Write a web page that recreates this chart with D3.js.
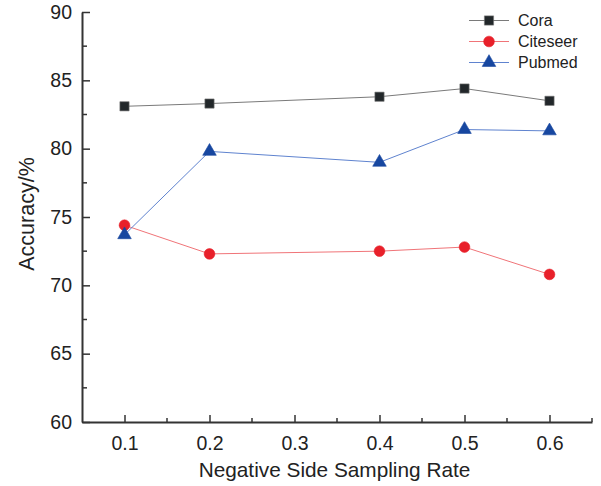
<!DOCTYPE html>
<html><head><meta charset="utf-8">
<script src="https://cdn.jsdelivr.net/npm/d3@7"></script>
<style>body{margin:0;background:#fff}svg{display:block;font-family:"Liberation Sans",Arial,sans-serif}</style>
</head><body>
<svg id="c" width="601" height="486"></svg>
<script>
const rates = [0.1, 0.2, 0.4, 0.5, 0.6];
const cora = [83.1, 83.3, 83.8, 84.4, 83.5];
const citeseer = [74.4, 72.3, 72.5, 72.8, 70.8];
const pubmed = [73.7, 79.8, 79.0, 81.4, 81.3];
const xTicks = [0.1, 0.2, 0.3, 0.4, 0.5, 0.6];
const yTicks = [60, 65, 70, 75, 80, 85, 90];
const seriesNames = ["Cora", "Citeseer", "Pubmed"];

const svg = d3.select("#c");
const x = d3.scaleLinear().domain([0.05, 0.65]).range([82, 592]);
const y = d3.scaleLinear().domain([60, 90]).range([422, 12]);
const axisColor = "#333";

const series = [
  {name: seriesNames[0], values: cora, line: "#7a7a7a", fill: "#22272a", stroke: "#777", shape: d3.symbolSquare, size: 85},
  {name: seriesNames[1], values: citeseer, line: "#f07478", fill: "#e8202a", stroke: "#e8202a", shape: d3.symbolCircle, size: 90},
  {name: seriesNames[2], values: pubmed, line: "#5f83cf", fill: "#1747a0", stroke: "#1747a0", shape: d3.symbolTriangle, size: 80}
];

const line = d3.line().x((d,i)=>x(rates[i])).y(d=>y(d));
series.forEach(s=>{
  svg.append("path").attr("d", line(s.values)).attr("fill","none").attr("stroke", s.line).attr("stroke-width",1);
});
series.forEach(s=>{
  svg.selectAll(null).data(s.values).enter().append("path")
    .attr("d", d3.symbol().type(s.shape).size(s.size))
    .attr("transform",(d,i)=>`translate(${x(rates[i])},${y(d)})`)
    .attr("fill", s.fill).attr("stroke", s.stroke).attr("stroke-width", 0.6);
});

const yAxis = d3.axisLeft(y).tickValues(yTicks).tickSizeInner(-8).tickSizeOuter(0).tickPadding(10);
const gy = svg.append("g").attr("transform","translate(82,0)").call(yAxis);
gy.select(".domain").attr("stroke",axisColor).attr("stroke-width",2);
gy.selectAll(".tick line").attr("stroke",axisColor).attr("stroke-width",1.5);
gy.selectAll(".tick text").attr("font-size",19.5).attr("fill","#222").attr("font-family","Liberation Sans, Arial, sans-serif");
const yMinor = d3.range(62.5, 90, 5);
gy.selectAll(".minor").data(yMinor).enter().append("line").attr("class","minor")
  .attr("x1",0).attr("x2",5).attr("y1",d=>y(d)).attr("y2",d=>y(d)).attr("stroke",axisColor).attr("stroke-width",1.5);

const xAxis = d3.axisBottom(x).tickValues(xTicks).tickFormat(d3.format(".1f")).tickSizeInner(-7).tickSizeOuter(0).tickPadding(14);
const gx = svg.append("g").attr("transform","translate(0,422)").call(xAxis);
gx.select(".domain").attr("stroke",axisColor).attr("stroke-width",2);
gx.selectAll(".tick line").attr("stroke",axisColor).attr("stroke-width",1.5);
gx.selectAll(".tick text").attr("font-size",19.5).attr("fill","#222").attr("font-family","Liberation Sans, Arial, sans-serif");
const xMinor = [0.15, 0.25, 0.35, 0.45, 0.55, 0.65];
gx.selectAll(".minor").data(xMinor).enter().append("line").attr("class","minor")
  .attr("x1",d=>x(d)).attr("x2",d=>x(d)).attr("y1",0).attr("y2",-4).attr("stroke",axisColor).attr("stroke-width",1.5);

svg.append("text").attr("x",334.5).attr("y",477).attr("text-anchor","middle").attr("font-size",20.8).attr("fill","#222").text("Negative Side Sampling Rate");
svg.append("text").attr("transform","translate(34,214) rotate(-90)").attr("text-anchor","middle").attr("font-size",21.5).attr("fill","#222").text("Accuracy/%");

const lg = svg.append("g");
series.forEach((s,i)=>{
  const yy = 20.5 + i*21;
  lg.append("line").attr("x1",469).attr("x2",509).attr("y1",yy).attr("y2",yy).attr("stroke",s.line).attr("stroke-width",1);
  lg.append("path").attr("d", d3.symbol().type(s.shape).size(s.size)).attr("transform",`translate(489,${yy})`)
    .attr("fill",s.fill).attr("stroke",s.stroke).attr("stroke-width",0.6);
  lg.append("text").attr("x",518).attr("y",yy+5.5).attr("font-size",16).attr("fill","#222").text(s.name);
});
</script>
</body></html>
